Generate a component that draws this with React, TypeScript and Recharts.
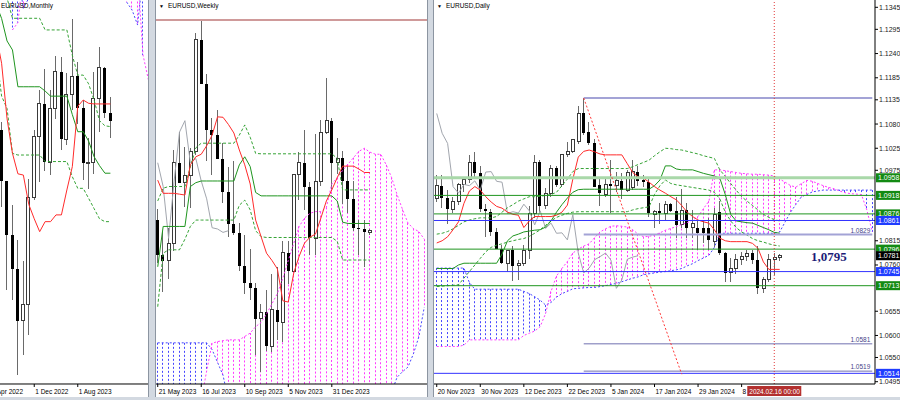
import React from "react";
import { ComposedChart, Bar, Line, XAxis, YAxis, ReferenceLine } from "recharts";

// ---------- EURUSD Daily: 20 Nov 2023 .. 19 Feb 2024, [open, high, low, close] ----------
const dailyCandles = [
  [1.0910, 1.0965, 1.0902, 1.0940], [1.0940, 1.0965, 1.0890, 1.0911], [1.0911, 1.0930, 1.0852, 1.0886],
  [1.0886, 1.0915, 1.0878, 1.0905], [1.0905, 1.0945, 1.0896, 1.0942], [1.0942, 1.0960, 1.0925, 1.0953],
  [1.0953, 1.1010, 1.0945, 1.0993], [1.0993, 1.1017, 1.0960, 1.0968], [1.0968, 1.0985, 1.0880, 1.0886],
  [1.0888, 1.0899, 1.0824, 1.0883], [1.0881, 1.0888, 1.0826, 1.0834], [1.0836, 1.0845, 1.0796, 1.0796],
  [1.0796, 1.0805, 1.0763, 1.0764], [1.0764, 1.0795, 1.0744, 1.0794], [1.0794, 1.0802, 1.0723, 1.0758],
  [1.0758, 1.0771, 1.0725, 1.0763], [1.0763, 1.0805, 1.0758, 1.0794], [1.0794, 1.0895, 1.0773, 1.0877],
  [1.0877, 1.1010, 1.0867, 1.0993], [1.0993, 1.0998, 1.0880, 1.0894], [1.0894, 1.0935, 1.0888, 1.0923],
  [1.0923, 1.0988, 1.0915, 1.0980], [1.0980, 1.0985, 1.0938, 1.0942], [1.0942, 1.1012, 1.0938, 1.1010],
  [1.1010, 1.1040, 1.1005, 1.1017], [1.1017, 1.1045, 1.1014, 1.1044], [1.1040, 1.1122, 1.1035, 1.1104],
  [1.1104, 1.1139, 1.1055, 1.1059], [1.1063, 1.1085, 1.1033, 1.1036], [1.1036, 1.1045, 1.0938, 1.0938],
  [1.0942, 1.0957, 1.0893, 1.0923], [1.0919, 1.0960, 1.0915, 1.0943], [1.0943, 1.0999, 1.0877, 1.0940],
  [1.0940, 1.0972, 1.0925, 1.0951], [1.0951, 1.0968, 1.0910, 1.0930], [1.0930, 1.0975, 1.0925, 1.0971],
  [1.0935, 1.0999, 1.0930, 1.0972], [1.0971, 1.0985, 1.0940, 1.0950], [1.0952, 1.0965, 1.0937, 1.0948],
  [1.0949, 1.0955, 1.0870, 1.0877], [1.0874, 1.0885, 1.0844, 1.0881], [1.0882, 1.0900, 1.0853, 1.0878],
  [1.0878, 1.0906, 1.0862, 1.0898], [1.0898, 1.0900, 1.0880, 1.0883], [1.0883, 1.0915, 1.0822, 1.0851],
  [1.0851, 1.0932, 1.0845, 1.0883], [1.0885, 1.0900, 1.0822, 1.0843], [1.0846, 1.0885, 1.0822, 1.0855],
  [1.0843, 1.0860, 1.0795, 1.0832], [1.0843, 1.0862, 1.0810, 1.0833], [1.0845, 1.0866, 1.0795, 1.0817],
  [1.0813, 1.0890, 1.0801, 1.0874], [1.0880, 1.0906, 1.0782, 1.0787], [1.0787, 1.0790, 1.0722, 1.0742],
  [1.0742, 1.0775, 1.0722, 1.0753], [1.0753, 1.0785, 1.0740, 1.0772], [1.0772, 1.0790, 1.0760, 1.0779],
  [1.0779, 1.0795, 1.0770, 1.0787], [1.0787, 1.0795, 1.0762, 1.0771], [1.0771, 1.0802, 1.0695, 1.0707],
  [1.0707, 1.0733, 1.0697, 1.0726], [1.0726, 1.0785, 1.0722, 1.0773], [1.0773, 1.0788, 1.0737, 1.0778],
  [1.0778, 1.0786, 1.0770, 1.0781],
];
const dailyTenkan = [
  1.0810, 1.0815, 1.0824, 1.0840, 1.0858, 1.0900, 1.0928, 1.0938, 1.0930, 1.0915,
  1.0903, 1.0893, 1.0889, 1.0880, 1.0875, 1.0873, 1.0845, 1.0860, 1.0870, 1.0870,
  1.0870, 1.0870, 1.0873, 1.0880, 1.0896, 1.0955, 1.1005, 1.1018, 1.1021, 1.1017,
  1.1012, 1.1010, 1.1010, 1.1010, 1.1010, 1.0990, 1.0970, 1.0960, 1.0957, 1.0948,
  1.0938, 1.0930, 1.0923, 1.0915, 1.0908, 1.0895, 1.0880, 1.0870, 1.0862, 1.0858,
  1.0855, 1.0840, 1.0821, 1.0815, 1.0813, 1.0813, 1.0813, 1.0813, 1.0809, 1.0798,
  1.0767, 1.0750, 1.0750, 1.0750,
];
const dailyKijun = [
  1.0752, 1.0752, 1.0752, 1.0752, 1.0760, 1.0764, 1.0764, 1.0764, 1.0764, 1.0764,
  1.0764, 1.0764, 1.0785, 1.0815, 1.0826, 1.0830, 1.0835, 1.0837, 1.0839, 1.0840,
  1.0846, 1.0860, 1.0880, 1.0897, 1.0912, 1.0925, 1.0931, 1.0932, 1.0932, 1.0932,
  1.0932, 1.0932, 1.0932, 1.0932, 1.0932, 1.0932, 1.0932, 1.0932, 1.0932, 1.0932,
  1.0940, 1.0953, 1.0985, 1.0985, 1.0978, 1.0976, 1.0976, 1.0976, 1.0972, 1.0968,
  1.0965, 1.0962, 1.0957, 1.0920, 1.0875, 1.0860, 1.0858, 1.0856, 1.0855, 1.0850,
  1.0845, 1.0840, 1.0834, 1.0832,
];
const dailyUpper = [
  1.0830, 1.0832, 1.0836, 1.0842, 1.0850, 1.0858, 1.0862, 1.0865, 1.0867, 1.0867,
  1.0867, 1.0870, 1.0880, 1.0890, 1.0897, 1.0905, 1.0910, 1.0915, 1.0915, 1.0916,
  1.0918, 1.0920, 1.0925, 1.0940, 1.0955, 1.0972, 1.0979, 1.0979, 1.0979, 1.0979,
  1.0979, 1.0979, 1.0979, 1.0979, 1.0979, 1.0979, 1.0983, 1.0988, 1.0993, 1.0998,
  1.1008, 1.1017, 1.1025, 1.1024, 1.1022, 1.1021, 1.1018, 1.1015, 1.1012, 1.1008,
  1.1005, 1.1002, 1.0976, 1.0961, 1.0945, 1.0930, 1.0915, 1.0905, 1.0895, 1.0885,
  1.0875, 1.0868, 1.0863, 1.0860,
];
const dailyLower = [
  1.0711, 1.0712, 1.0713, 1.0714, 1.0715, 1.0730, 1.0745, 1.0760, 1.0775, 1.0790,
  1.0800, 1.0805, 1.0808, 1.0812, 1.0815, 1.0818, 1.0820, 1.0825, 1.0832, 1.0840,
  1.0850, 1.0860, 1.0868, 1.0873, 1.0877, 1.0880, 1.0881, 1.0881, 1.0881, 1.0881,
  1.0881, 1.0881, 1.0881, 1.0881, 1.0881, 1.0881, 1.0885, 1.0888, 1.0890, 1.0892,
  1.0920, 1.0940, 1.0953, 1.0945, 1.0942, 1.0940, 1.0938, 1.0936, 1.0934, 1.0932,
  1.0930, 1.0925, 1.0910, 1.0880, 1.0860, 1.0845, 1.0835, 1.0828, 1.0820, 1.0815,
  1.0812, 1.0808, 1.0805, 1.0803,
];
// senkou spans, drawn 26 bars ahead (81 slots)
const dailySpanA = [
  1.0753, 1.0753, 1.0753, 1.0753, 1.0753, 1.0753, 1.0720, 1.0705, 1.0705, 1.0705,
  1.0705, 1.0705, 1.0705, 1.0705, 1.0705, 1.0705, 1.0700, 1.0695, 1.0688, 1.0680,
  1.0669, 1.0675, 1.0687, 1.0695, 1.0700, 1.0706, 1.0707, 1.0708, 1.0709, 1.0709,
  1.0711, 1.0713, 1.0716, 1.0718, 1.0722, 1.0726, 1.0730, 1.0733, 1.0738, 1.0740,
  1.0742, 1.0744, 1.0745, 1.0747, 1.0749, 1.0752, 1.0758, 1.0763, 1.0770, 1.0776,
  1.0782, 1.0800, 1.0832, 1.0832, 1.0832, 1.0832, 1.0832, 1.0832, 1.0832, 1.0832,
  1.0832, 1.0832, 1.0832, 1.0835, 1.0858, 1.0880, 1.0898, 1.0915, 1.0920, 1.0926,
  1.0928, 1.0930, 1.0930, 1.0930, 1.0930, 1.0930, 1.0930, 1.0930, 1.0930, 1.0930,
  1.0930,
];
const dailySpanB = [
  1.0575, 1.0575, 1.0575, 1.0575, 1.0575, 1.0578, 1.0590, 1.0590, 1.0590, 1.0590,
  1.0590, 1.0590, 1.0590, 1.0590, 1.0590, 1.0590, 1.0600, 1.0605, 1.0610, 1.0620,
  1.0650, 1.0700, 1.0735, 1.0752, 1.0768, 1.0787, 1.0796, 1.0803, 1.0808, 1.0822,
  1.0835, 1.0842, 1.0848, 1.0849, 1.0848, 1.0846, 1.0840, 1.0830, 1.0824, 1.0825,
  1.0828, 1.0833, 1.0839, 1.0843, 1.0847, 1.0852, 1.0856, 1.0862, 1.0870, 1.0888,
  1.0905, 1.0976, 1.0976, 1.0974, 1.0972, 1.0970, 1.0968, 1.0967, 1.0966, 1.0966,
  1.0965, 1.0964, 1.0962, 1.0955, 1.0948, 1.0940, 1.0937, 1.0945, 1.0952, 1.0950,
  1.0945, 1.0940, 1.0936, 1.0933, 1.0928, 1.0924, 1.0922, 1.0921, 1.0920, 1.0885,
  1.0835,
];
const dailyDateTicks = [0, 8, 16, 24, 32, 40, 48, 56];
const dailyDateLabels = ["20 Nov 2023", "30 Nov 2023", "12 Dec 2023", "22 Dec 2023", "5 Jan 2024", "17 Jan 2024", "29 Jan 2024", "8"];
const dailyPriceTicks = [1.1345, 1.1295, 1.124, 1.1185, 1.1135, 1.108, 1.1025, 1.0975, 1.0815, 1.076, 1.0655, 1.06, 1.055, 1.0495];
const dailyGreenLevels = [1.0918, 1.0876, 1.0796, 1.0713];
const dailyLightLevel = 1.0958;
const dailyBlueLevels = [1.0861, 1.0745, 1.0514];
const dailySwingLevels = [1.1139, 1.0829, 1.0581, 1.0519];
const dailySwingStart = 27;
const dailyLastPrice = 1.0781;
const dailyTrend = [{ i: 27, price: 1.1139 }, { i: 45, price: 1.0512 }];
const dailyCursor = { i: 62, label: "2024.02.16 00:00" };
const dailyNote = "1,0795";

// ---------- EURUSD Weekly: 21 May 2023 .. 18 Feb 2024 ----------
const weeklyCandles = [
  [1.0806, 1.0830, 1.0703, 1.0722], [1.0722, 1.0779, 1.0635, 1.0709], [1.0709, 1.0787, 1.0666, 1.0749],
  [1.0749, 1.0971, 1.0732, 1.0940], [1.0940, 1.1012, 1.0896, 1.0893], [1.0893, 1.0976, 1.0835, 1.0910],
  [1.0910, 1.0975, 1.0833, 1.0967], [1.0967, 1.1245, 1.0959, 1.1230], [1.1230, 1.1276, 1.1125, 1.1125],
  [1.1125, 1.1149, 1.0945, 1.1016], [1.1016, 1.1046, 1.0912, 1.1006], [1.1006, 1.1065, 1.0950, 1.0948],
  [1.0948, 1.0987, 1.0845, 1.0872], [1.0872, 1.0930, 1.0765, 1.0796], [1.0796, 1.0945, 1.0770, 1.0775],
  [1.0775, 1.0797, 1.0686, 1.0698], [1.0698, 1.0769, 1.0631, 1.0656], [1.0656, 1.0737, 1.0617, 1.0644],
  [1.0644, 1.0656, 1.0488, 1.0573], [1.0573, 1.0608, 1.0448, 1.0588], [1.0588, 1.0640, 1.0496, 1.0508],
  [1.0508, 1.0677, 1.0495, 1.0594], [1.0594, 1.0695, 1.0523, 1.0565], [1.0565, 1.0755, 1.0517, 1.0728],
  [1.0728, 1.0756, 1.0655, 1.0684], [1.0684, 1.0914, 1.0683, 1.0913], [1.0913, 1.0965, 1.0852, 1.0940],
  [1.0940, 1.1017, 1.0829, 1.0884], [1.0884, 1.0895, 1.0723, 1.0762], [1.0762, 1.1008, 1.0723, 1.0895],
  [1.0895, 1.1040, 1.0885, 1.1012], [1.1012, 1.1139, 1.1008, 1.1039], [1.1039, 1.1045, 1.0877, 1.0940],
  [1.0940, 1.0999, 1.0914, 1.0950], [1.0950, 1.0968, 1.0844, 1.0897], [1.0897, 1.0932, 1.0821, 1.0855],
  [1.0855, 1.0898, 1.0779, 1.0787], [1.0787, 1.0806, 1.0722, 1.0784], [1.0784, 1.0806, 1.0695, 1.0776],
  [1.0776, 1.0785, 1.0770, 1.0780],
];
const weeklyTenkan = [
  1.0899, 1.0868, 1.0868, 1.0868, 1.0866, 1.0864, 1.0935, 1.0954, 1.0960, 1.0980,
  1.1005, 1.1048, 1.1047, 1.1030, 1.1010, 1.0970, 1.0935, 1.0890, 1.0805, 1.0766,
  1.0727, 1.0710, 1.0690, 1.0615, 1.0612, 1.0680, 1.0720, 1.0751, 1.0765, 1.0772,
  1.0810, 1.0850, 1.0876, 1.0905, 1.0932, 1.0932, 1.0932, 1.0925, 1.0917, 1.0917,
];
const weeklyKijun = [
  1.0695, 1.0790, 1.0790, 1.0790, 1.0790, 1.0790, 1.0884, 1.0893, 1.0897, 1.0897,
  1.0897, 1.0897, 1.0897, 1.0897, 1.0897, 1.0935, 1.0954, 1.0931, 1.0870, 1.0862,
  1.0862, 1.0862, 1.0862, 1.0862, 1.0862, 1.0862, 1.0862, 1.0862, 1.0862, 1.0862,
  1.0862, 1.0862, 1.0862, 1.0850, 1.0800, 1.0797, 1.0797, 1.0797, 1.0797, 1.0797,
];
const weeklyUpper = [
  1.0850, 1.0880, 1.0884, 1.0884, 1.0884, 1.0884, 1.0930, 1.0975, 1.0986, 1.0986,
  1.0986, 1.0986, 1.0986, 1.0986, 1.0986, 1.1005, 1.1029, 1.1000, 1.0962, 1.0961,
  1.0961, 1.0961, 1.0961, 1.0961, 1.0961, 1.0961, 1.0961, 1.0961, 1.0961, 1.0961,
  1.0961, 1.0961, 1.0961, 1.0950, 1.0876, 1.0876, 1.0876, 1.0876, 1.0876, 1.0876,
];
const weeklyLower = [
  1.0601, 1.0727, 1.0735, 1.0735, 1.0735, 1.0760, 1.0790, 1.0805, 1.0805, 1.0805,
  1.0805, 1.0805, 1.0805, 1.0805, 1.0805, 1.0840, 1.0852, 1.0829, 1.0780, 1.0766,
  1.0764, 1.0764, 1.0764, 1.0764, 1.0764, 1.0764, 1.0764, 1.0764, 1.0764, 1.0764,
  1.0764, 1.0764, 1.0764, 1.0755, 1.0711, 1.0711, 1.0711, 1.0711, 1.0711, 1.0711,
];
const weeklySpanA = [
  1.0516, 1.0516, 1.0516, 1.0516, 1.0516, 1.0516, 1.0516, 1.0516, 1.0516, 1.0516,
  1.0500, 1.0470, 1.0440, 1.0380, 1.0380, 1.0380, 1.0380, 1.0380, 1.0380, 1.0380,
  1.0380, 1.0380, 1.0380, 1.0380, 1.0380, 1.0380, 1.0380, 1.0380, 1.0380, 1.0380,
  1.0380, 1.0380, 1.0380, 1.0380, 1.0380, 1.0380, 1.0380, 1.0380, 1.0380, 1.0380,
  1.0380, 1.0380, 1.0380, 1.0400, 1.0435, 1.0448, 1.0459, 1.0490, 1.0530, 1.0600,
];
const weeklySpanB = [
  1.0380, 1.0380, 1.0380, 1.0380, 1.0380, 1.0380, 1.0380, 1.0380, 1.0380, 1.0450,
  1.0515, 1.0519, 1.0521, 1.0523, 1.0523, 1.0523, 1.0531, 1.0539, 1.0554, 1.0564,
  1.0584, 1.0608, 1.0632, 1.0668, 1.0710, 1.0750, 1.0790, 1.0810, 1.0821, 1.0825,
  1.0825, 1.0835, 1.0890, 1.0905, 1.0922, 1.0937, 1.0952, 1.0967, 1.0974, 1.0965,
  1.0960, 1.0960, 1.0935, 1.0905, 1.0865, 1.0830, 1.0798, 1.0785, 1.0778, 1.0760,
];
const weeklyDateTicks = [0, 8, 16, 24, 32];
const weeklyDateLabels = ["21 May 2023", "16 Jul 2023", "10 Sep 2023", "5 Nov 2023", "31 Dec 2023"];
const weeklyHigh = 1.1276;

// ---------- EURUSD Monthly: Apr 2022 .. Feb 2024 ----------
const monthlyCandles = [
  [1.0665, 1.1076, 1.0471, 1.0544], [1.0544, 1.0787, 1.0349, 1.0733], [1.0733, 1.0774, 1.0359, 1.0484],
  [1.0484, 1.0487, 0.9952, 1.0220], [1.0220, 1.0369, 0.9901, 1.0054], [1.0054, 1.0198, 0.9536, 0.9802],
  [0.9802, 1.0094, 0.9632, 0.9882], [0.9882, 1.0497, 0.9730, 1.0405], [1.0405, 1.0736, 1.0393, 1.0705],
  [1.0705, 1.0929, 1.0482, 1.0863], [1.0863, 1.1033, 1.0533, 1.0576], [1.0576, 1.0930, 1.0516, 1.0839],
  [1.0839, 1.1095, 1.0788, 1.1019], [1.1019, 1.1092, 1.0635, 1.0689], [1.0689, 1.1012, 1.0662, 1.0909],
  [1.0909, 1.1276, 1.0833, 1.0998], [1.0998, 1.1065, 1.0765, 1.0843], [1.0843, 1.0882, 1.0488, 1.0573],
  [1.0573, 1.0695, 1.0448, 1.0576], [1.0576, 1.1017, 1.0517, 1.0887], [1.0887, 1.1139, 1.0723, 1.1039],
  [1.1039, 1.1045, 1.0795, 1.0816], [1.0816, 1.0898, 1.0695, 1.0780],
];
const monthlyTenkan = [
  1.1300, 1.1200, 1.1061, 1.0790, 1.0620, 1.0520, 1.0514, 1.0370, 1.0300, 1.0237, 1.0286, 1.0286,
  1.0319, 1.0319, 1.0441, 1.0555, 1.0850, 1.0881, 1.0865, 1.0862, 1.0862, 1.0862, 1.0862,
];
const monthlyKijun = [
  1.1400, 1.1350, 1.1280, 1.1170, 1.1126, 1.0946, 1.0946, 1.0946, 1.0946, 1.0946, 1.0925, 1.0900,
  1.0900, 1.0900, 1.0900, 1.0810, 1.0726, 1.0726, 1.0680, 1.0604, 1.0560, 1.0523, 1.0523,
];
const monthlyUpper = [
  1.1700, 1.1600, 1.1500, 1.1380, 1.1281, 1.1281, 1.1281, 1.1281, 1.1281, 1.1281, 1.1224, 1.1224,
  1.1224, 1.1224, 1.1224, 1.1100, 1.1003, 1.1003, 1.0960, 1.0881, 1.0780, 1.0755, 1.0751,
];
const monthlyLower = [
  1.1300, 1.1111, 1.0900, 1.0840, 1.0620, 1.0612, 1.0612, 1.0612, 1.0612, 1.0612, 1.0580, 1.0580,
  1.0580, 1.0580, 1.0580, 1.0506, 1.0449, 1.0449, 1.0400, 1.0350, 1.0300, 1.0286, 1.0286,
];
const monthlySpanA = [
  null, null, null, null, 1.1500, 1.1500, 1.1330, 1.1380, null, null, null, null, null, null, null,
  null, null, null, null, null, null, null, null, null, null, 1.1360, 1.1321, 1.1248, 1.1500, 1.1500,
];
const monthlySpanB = [
  null, null, null, null, 1.1224, 1.1260, 1.1500, 1.1500, null, null, null, null, null, null, null,
  null, null, null, null, null, null, null, null, null, null, 1.1500, 1.1500, 1.1500, 1.1101, 1.0979,
];
const monthlyDateTicks = [0, 8, 16];
const monthlyDateLabels = ["1 Apr 2022", "1 Dec 2022", "1 Aug 2023"];

// ---------- helpers ----------
type Row = {
  i: number;
  o: number | null; h: number | null; l: number | null; c: number | null;
  tk: number | null; kj: number | null; up: number | null; lo: number | null;
  ch: number | null; a: number | null; b: number | null;
};

function buildRows(n: number, candles: number[][], tenkan: any[], kijun: any[], upper: any[], lower: any[], spanA: any[], spanB: any[]): Row[] {
  const rows: Row[] = [];
  for (let i = 0; i < n; i++) {
    const k = candles[i];
    const lag = candles[i + 26];
    rows.push({
      i,
      o: k ? k[0] : null, h: k ? k[1] : null, l: k ? k[2] : null, c: k ? k[3] : null,
      tk: tenkan[i] ?? null, kj: kijun[i] ?? null, up: upper[i] ?? null, lo: lower[i] ?? null,
      ch: lag ? lag[3] : null,
      a: spanA[i] ?? null, b: spanB[i] ?? null,
    });
  }
  return rows;
}

const dailyRows = buildRows(81, dailyCandles, dailyTenkan, dailyKijun, dailyUpper, dailyLower, dailySpanA, dailySpanB);
const weeklyRows = buildRows(50, weeklyCandles, weeklyTenkan, weeklyKijun, weeklyUpper, weeklyLower, weeklySpanA, weeklySpanB);
const monthlyRows = buildRows(30, monthlyCandles, monthlyTenkan, monthlyKijun, monthlyUpper, monthlyLower, monthlySpanA, monthlySpanB);

const candleRange = (d: Row) => (d.h == null ? null : [d.l, d.h]);
const cloudRange = (d: Row) => (d.a == null || d.b == null ? null : [Math.min(d.a, d.b), Math.max(d.a, d.b)]);

const BLUE_CLOUD = "#4646ff";
const PINK_CLOUD = "#ff3cff";

function Candle(props: any) {
  const { x, y, width, height, payload } = props;
  if (payload.h == null || height == null) return null;
  const cx = Math.floor(x + width / 2) + 0.5;
  const k = height / (payload.h - payload.l);
  const yo = y + (payload.h - payload.o) * k;
  const yc = y + (payload.h - payload.c) * k;
  const top = Math.min(yo, yc);
  const bh = Math.max(1, Math.abs(yc - yo));
  const bull = payload.c >= payload.o;
  return (
    <g shapeRendering="crispEdges">
      <line x1={cx} x2={cx} y1={y} y2={y + height} stroke="#6a6a6a" />
      {bull ? (
        <rect x={cx - 1.5} y={top} width={3} height={bh} fill="#fff" stroke="#3a3a3a" />
      ) : (
        <rect x={cx - 1.5} y={top} width={3} height={bh} fill="#000" />
      )}
    </g>
  );
}

function Hatch(props: any) {
  const { x, y, width, height, payload } = props;
  if (payload.a == null || payload.b == null || height == null) return null;
  const cx = Math.floor(x + width / 2) + 0.5;
  const col = payload.a >= payload.b ? BLUE_CLOUD : PINK_CLOUD;
  return <line x1={cx} x2={cx} y1={y} y2={y + height} stroke={col} strokeDasharray="2 2" />;
}

function DateTick(props: any) {
  const { x, y, label } = props;
  return (
    <g>
      <line x1={x} x2={x} y1={y} y2={y + 3} stroke="#000" />
      <text x={x + 1} y={y + 10} fontSize={6.5} fill="#000">{label}</text>
    </g>
  );
}

function PriceTick(props: any) {
  const { x, y, payload } = props;
  return (
    <text x={x} y={y + 2.5} fontSize={7} fill="#222">{Number(payload.value).toFixed(4)}</text>
  );
}

function tagLabel(value: number, bg: string) {
  return (p: any) => {
    const vb = p.viewBox;
    const right = vb.x + vb.width;
    return (
      <g>
        <rect x={right + 1} y={vb.y - 4.5} width={25} height={9} fill={bg} />
        <text x={right + 3} y={vb.y + 2.5} fontSize={7} fill="#fff">{value.toFixed(4)}</text>
      </g>
    );
  };
}

function swingLabel(value: number) {
  return (p: any) => {
    const vb = p.viewBox;
    return (
      <text x={vb.x + vb.width - 2} y={vb.y - 2} textAnchor="end" fontSize={6.5} fill="#45458a">{value.toFixed(4)}</text>
    );
  };
}

type ChartProps = {
  rows: Row[];
  width: number;
  domain: [number, number];
  dateTicks: number[];
  dateLabels: string[];
  priceTicks?: number[];
  children?: React.ReactNode;
};

function IchimokuChart({ rows, width, domain, dateTicks, dateLabels, priceTicks, children }: ChartProps) {
  const labelOf: Record<number, string> = {};
  dateTicks.forEach((t, k) => (labelOf[t] = dateLabels[k]));
  return (
    <ComposedChart width={width} height={400} data={rows} margin={{ top: 0, right: 0, bottom: 0, left: 0 }}>
      <XAxis
        dataKey="i"
        type="category"
        ticks={dateTicks}
        interval={0}
        height={16}
        tickSize={0}
        tickMargin={0}
        axisLine={{ stroke: "#000" }}
        tickLine={false}
        tick={(p: any) => <DateTick {...p} label={labelOf[p.payload.value]} />}
      />
      <XAxis xAxisId="cloud" dataKey="i" type="category" hide />
      {priceTicks ? (
        <YAxis
          orientation="right"
          width={26}
          type="number"
          domain={domain}
          allowDataOverflow
          ticks={priceTicks}
          interval={0}
          tickSize={3}
          tickMargin={1}
          axisLine={{ stroke: "#000" }}
          tickLine={{ stroke: "#000" }}
          tick={PriceTick}
        />
      ) : (
        <YAxis hide type="number" domain={domain} allowDataOverflow />
      )}
      <Bar xAxisId="cloud" dataKey={cloudRange} shape={Hatch} isAnimationActive={false} />
      <Line dataKey="a" stroke={BLUE_CLOUD} strokeDasharray="2 2" dot={false} activeDot={false} isAnimationActive={false} />
      <Line dataKey="b" stroke={PINK_CLOUD} strokeDasharray="2 2" dot={false} activeDot={false} isAnimationActive={false} />
      <Line dataKey="ch" stroke="#a2a6ae" strokeWidth={1} dot={false} activeDot={false} isAnimationActive={false} />
      <Bar dataKey={candleRange} shape={Candle} isAnimationActive={false} />
      <Line dataKey="up" stroke="#35a335" strokeDasharray="3 2" dot={false} activeDot={false} isAnimationActive={false} />
      <Line dataKey="lo" stroke="#35a335" strokeDasharray="3 2" dot={false} activeDot={false} isAnimationActive={false} />
      <Line dataKey="kj" stroke="#1f951f" dot={false} activeDot={false} isAnimationActive={false} />
      <Line dataKey="tk" stroke="#ff2a2a" dot={false} activeDot={false} isAnimationActive={false} />
      {children}
    </ComposedChart>
  );
}

function Title({ text, left, arrow = true }: { text: string; left: number; arrow?: boolean }) {
  return (
    <div style={{ position: "absolute", left, top: 1, fontSize: 6.5, lineHeight: "9px", color: "#000", whiteSpace: "nowrap" }}>
      {arrow && <span style={{ fontSize: 5, marginRight: 4 }}>▼</span>}
      {text}
    </div>
  );
}

export default function App() {
  const lastIdx = dailyRows.length - 1;
  return (
    <div
      style={{
        position: "absolute", left: 0, top: 0, width: 900, height: 400, overflow: "hidden",
        background: "#d3d9e1", fontFamily: "'Liberation Sans', Arial, sans-serif",
      }}
    >
      {/* Monthly */}
      <div style={{ position: "absolute", left: 0, top: 0, width: 149, height: 397, boxSizing: "border-box", borderRight: "1px solid #8c95a1", background: "#fff", overflow: "hidden" }}>
        <div style={{ position: "absolute", left: -11.7, top: 0 }}>
          <IchimokuChart rows={monthlyRows} width={163.2} domain={[0.94917, 1.13704]} dateTicks={monthlyDateTicks} dateLabels={monthlyDateLabels} />
        </div>
        <Title text="EURUSD,Monthly" left={1} arrow={false} />
      </div>

      {/* Weekly */}
      <div style={{ position: "absolute", left: 155, top: 0, width: 273, height: 397, boxSizing: "border-box", borderLeft: "1px solid #8c95a1", borderRight: "1px solid #8c95a1", background: "#fff", overflow: "hidden" }}>
        <div style={{ position: "absolute", left: -1.2, top: 0 }}>
          <IchimokuChart rows={weeklyRows} width={272} domain={[1.04191, 1.13231]} dateTicks={weeklyDateTicks} dateLabels={weeklyDateLabels}>
            <ReferenceLine y={weeklyHigh} stroke="#cf9a9a" strokeWidth={2} />
          </IchimokuChart>
        </div>
        <Title text="EURUSD,Weekly" left={3} />
      </div>

      {/* Daily */}
      <div style={{ position: "absolute", left: 433, top: 0, width: 467, height: 397, boxSizing: "border-box", borderLeft: "1px solid #8c95a1", background: "#fff", overflow: "hidden" }}>
        <div style={{ position: "absolute", left: -0.5, top: 0 }}>
          <IchimokuChart
            rows={dailyRows}
            width={467}
            domain={[1.04898, 1.13616]}
            dateTicks={dailyDateTicks}
            dateLabels={dailyDateLabels}
            priceTicks={dailyPriceTicks}
          >
            <ReferenceLine y={dailyLightLevel} stroke="#a9d8a9" strokeWidth={3} label={tagLabel(dailyLightLevel, "#138a13")} />
            {dailySwingLevels.map((v, k) => (
              <ReferenceLine
                key={"s" + v}
                segment={[{ x: dailySwingStart, y: v }, { x: lastIdx, y: v }]}
                stroke={k < 2 ? "#a3a3d6" : "#7070b0"}
                strokeWidth={k < 2 ? 2 : 1}
                label={k > 0 ? swingLabel(v) : undefined}
              />
            ))}
            {dailyGreenLevels.map((v) => (
              <ReferenceLine key={"g" + v} y={v} stroke="#1f951f" label={tagLabel(v, "#138a13")} />
            ))}
            {dailyBlueLevels.map((v) => (
              <ReferenceLine key={"b" + v} y={v} stroke="#3232ff" label={tagLabel(v, "#1f3cff")} />
            ))}
            <ReferenceLine y={dailyLastPrice} stroke="none" label={tagLabel(dailyLastPrice, "#000")} />
            <ReferenceLine
              segment={[{ x: dailyTrend[0].i, y: dailyTrend[0].price }, { x: dailyTrend[1].i, y: dailyTrend[1].price }]}
              stroke="#ff3a3a"
              strokeDasharray="2 2"
            />
            <ReferenceLine
              x={dailyCursor.i}
              stroke="#e23a3a"
              strokeDasharray="1 2"
              label={(p: any) => {
                const vb = p.viewBox;
                return (
                  <g>
                    <rect x={vb.x - 27} y={vb.y + vb.height + 2} width={54} height={10} fill="#b3302f" />
                    <text x={vb.x - 25} y={vb.y + vb.height + 9.5} fontSize={6.5} fill="#fff">{dailyCursor.label}</text>
                  </g>
                );
              }}
            />
          </IchimokuChart>
        </div>
        <Title text="EURUSD,Daily" left={3} />
        <div
          style={{
            position: "absolute", left: 377, top: 249, fontFamily: "'Liberation Serif', serif",
            fontWeight: "bold", fontSize: 13, color: "#1c1c78", whiteSpace: "nowrap",
          }}
        >
          {dailyNote}
        </div>
      </div>
    </div>
  );
}
